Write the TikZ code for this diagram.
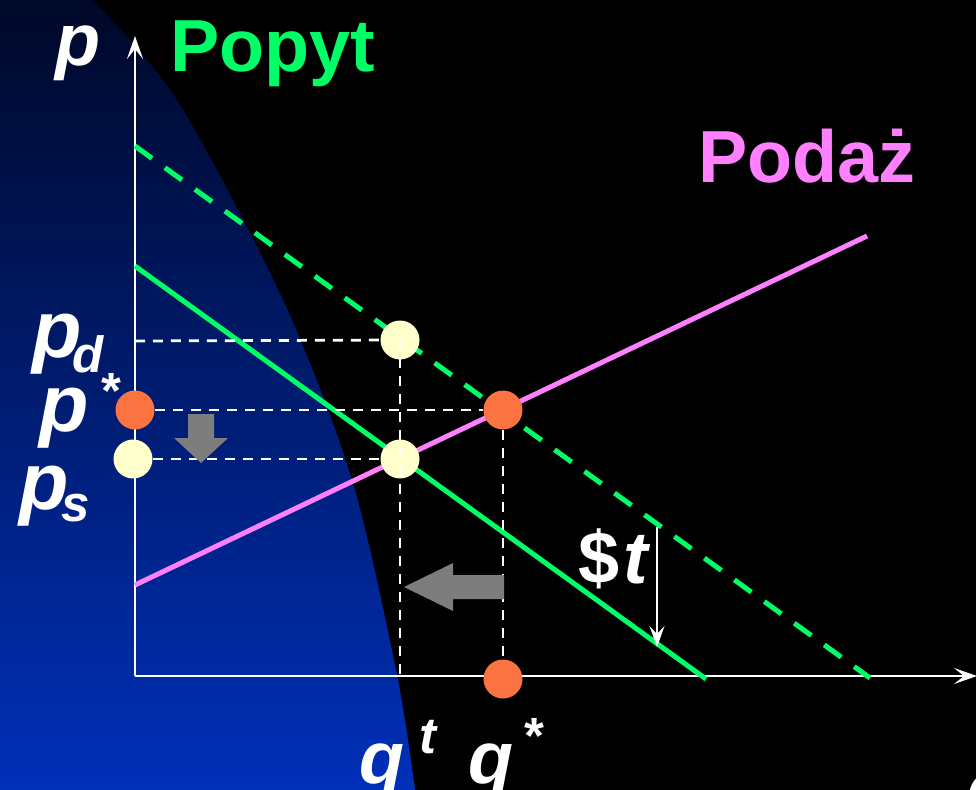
\documentclass[tikz,border=0pt]{standalone}
\usepackage{fontspec}
\setmainfont{Liberation Sans}
\usetikzlibrary{arrows.meta,positioning}
\definecolor{demandgreen}{RGB}{0,255,102}
\definecolor{supplypink}{RGB}{255,128,255}
\definecolor{eqorange}{RGB}{250,115,65}
\definecolor{taxcream}{RGB}{255,255,204}
\definecolor{shiftgray}{RGB}{125,125,125}
\definecolor{skytop}{RGB}{0,8,40}
\definecolor{skybot}{RGB}{0,48,185}
\newcommand{\bigfont}{\fontsize{42}{48}\selectfont\bfseries}
\newcommand{\pricefont}{\fontsize{46}{52}\selectfont\bfseries}
\newcommand{\idxfont}{\fontsize{29}{34}\selectfont\bfseries\itshape}
\tikzset{
  >={Stealth[length=0.46cm, width=0.32cm, inset=0.2cm]},
  axis/.style={draw=white, line width=0.05cm},
  guide/.style={draw=white, line width=0.055cm, dash pattern=on 0.2cm off 0.16cm},
  curve/.style={line width=0.1cm},
  ball/.style={circle, minimum size=0.78cm, inner sep=0pt},
  eqball/.style={ball, fill=eqorange},
  taxball/.style={ball, fill=taxcream},
  tag/.style={font=\bigfont, inner sep=0pt},
  var/.style={text=white, font=\bigfont\itshape, inner sep=0pt},
  price/.style={text=white, font=\pricefont\itshape, inner sep=0pt},
  idx/.style={text=white, font=\idxfont, inner sep=0pt},
}

\begin{document}
\begin{tikzpicture}[x=0.02cm, y=-0.02cm]
  % background
  \fill[black] (0,0) rectangle (976,790);
  \useasboundingbox (0,0) rectangle (976,790);
  \shade[top color=skytop, bottom color=skybot]
    (0,0) -- plot[smooth] coordinates {(93,0) (177,100) (283,300) (352,480) (397,675) (415,790)}
    -- (0,790) -- cycle;

  % axes
  \coordinate (O) at (135,676);
  \coordinate (ptop) at (135,36);
  \coordinate (qend) at (977,676);
  \draw[axis, ->] (O) -- (ptop);
  \draw[axis, ->] (O) -- (qend);

  % demand (with and without tax) and supply
  \coordinate (D0) at (135,146);
  \coordinate (D1) at (870,678);
  \coordinate (T0) at (135,266);
  \coordinate (T1) at (706,679);
  \coordinate (S0) at (135,585);
  \coordinate (S1) at (867,236);
  \draw[curve, demandgreen, dash pattern=on 0.42cm off 0.32cm] (D0) -- (D1);
  \draw[curve, demandgreen] (T0) -- (T1);
  \draw[curve, supplypink] (S0) -- (S1);

  % prices after the tax
  \node[taxball] (pdq) at (400,340) {};
  \node[taxball] (psq) at (400,459) {};
  \node[taxball] (ps)  at (133,459) {};
  \coordinate (pdax) at (135,341);
  \coordinate (qt) at (400,676);
  \draw[guide] (pdax) -- (pdq);
  \draw[guide] (ps) -- (psq);
  \draw[guide] (pdq.center) -- (qt);

  % equilibrium
  \node[eqball] (E)     at (503,410) {};
  \node[eqball] (pstar) at (135,410) {};
  \node[eqball] (qstar) at (503,679) {};
  \draw[guide] (pstar) -- (E);
  \draw[guide] (E) -- (qstar);

  % shifts
  \fill[shiftgray] (188,414) -- (214,414) -- (214,438) -- (228,438) -- (201,463)
    -- (174,438) -- (188,438) -- cycle;
  \fill[shiftgray] (504,575) -- (453,575) -- (453,563) -- (404,587) -- (453,611)
    -- (453,599) -- (504,599) -- cycle;

  % tax
  \coordinate (tt) at (657,527);
  \coordinate (tb) at (657,647);
  \draw[white, line width=0.04cm, -{Stealth[length=0.42cm, width=0.3cm, inset=0.16cm]}] (tt) -- (tb);
  \node[tag, text=white, anchor=base west] (tax) at (578,583) {\$\kern0.05em\textit{t}};

  % labels
  \node[tag, text=demandgreen, anchor=base west] (popyt) at (170,72) {Popyt};
  \node[tag, text=supplypink, anchor=base west] (podaz) at (698,183) {Podaż};
  \node[var, anchor=base] (plab) at (78,66) {p};
  \node[price, anchor=base] (pdlab) at (57,357) {p};
  \node[idx, anchor=base] (pdsub) at (88,372) {d};
  \node[price, anchor=base] (pstarlab) at (64,431) {p};
  \node[idx, anchor=base] (pstarsup) at (109,408) {*};
  \node[price, anchor=base] (pslab) at (44,509) {p};
  \node[idx, anchor=base] (pssub) at (76,521) {s};
  \node[var, anchor=base] (qtlab) at (382,783) {q};
  \node[idx, anchor=base] (qtsup) at (428,753) {t};
  \node[var, anchor=base] (qstarlab) at (491,783) {q};
  \node[idx, anchor=base] (qstarsup) at (532,753) {*};
  \node[var, anchor=base west] (qlab) at (966,814) {q};
\end{tikzpicture}
\end{document}
